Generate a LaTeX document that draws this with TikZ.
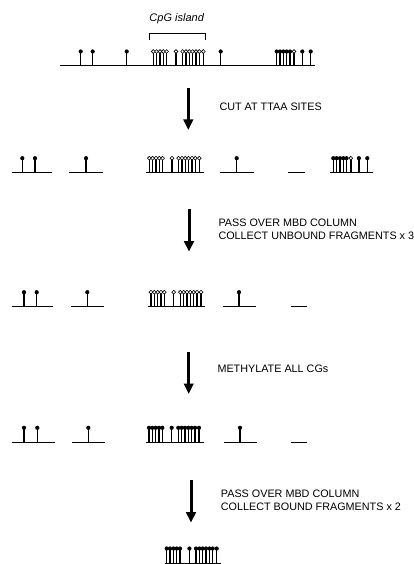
\documentclass[tikz,border=0pt]{standalone}
\usepackage{fontspec}
\setmainfont{Liberation Sans}
\usepackage{tikz}
\usetikzlibrary{arrows.meta}

% methylated (filled) and unmethylated (open) CpG sites
\newcommand{\mcg}[1]{\draw[stem] (#1,0) -- (#1,-13); \fill (#1,-14.5) circle (2.1pt);}
\newcommand{\ucg}[1]{\draw[stem] (#1,0) -- (#1,-12.5); \draw[line width=0.6pt, fill=white] (#1,-14.5) circle (1.9pt);}
% the CpG island cluster, #1 = start, #2 = \mcg or \ucg
\newcommand{\cgisland}[2]{\foreach \d in {0,3.3,6.7,10,13.3,22.7,29.3,32.7,36,39.3,42.7,46,50}{#2{#1+\d}}}

\tikzset{
  dna/.style={line width=1pt},
  stem/.style={line width=1.4pt},
  bigarrow/.style={-{Triangle[length=10.5pt,width=9.5pt]}, line width=3pt},
  steptext/.style={font=\fontsize{10.8}{12.5}\selectfont, anchor=west, align=left, inner sep=0pt}
}

\begin{document}
\begin{tikzpicture}[x=1pt, y=-1pt]
\useasboundingbox (0,0) rectangle (413,564);

% Genomic DNA with the CpG island
\node[font=\fontsize{11}{13}\selectfont\itshape] (island) at (176.7,18.3) {CpG island};
\draw[line width=0.6pt] (149.3,40) -- (149.3,33) -- (205.3,33) -- (205.3,40);
\begin{scope}[shift={(0,66)}]
    \draw[dna] (60,0) -- (315,0);
    \foreach \x in {80.7,92.7,126.7,220.7,276.7,280,283.3,286.7,290,302.3,310.7} {\mcg{\x}}
    \cgisland{153.3}{\ucg}
    \ucg{294}
\end{scope}

% Step 1
\coordinate (a1top) at (188.3,88.3);
\coordinate (a1tip) at (188.3,130);
\draw[bigarrow] (a1top) -- (a1tip);
\node[steptext] (cut) at (219.3,106.7) {CUT AT TTAA SITES};

% TTAA fragments
\begin{scope}[shift={(0,172.7)}]
    \draw[dna] (11.7,0) -- (51.7,0);
    \draw[dna] (69.3,0) -- (102.7,0);
    \draw[dna] (145.7,0) -- (204,0);
    \draw[dna] (220,0) -- (254,0);
    \draw[dna] (288.3,0) -- (305,0);
    \draw[dna] (330,0) -- (372.7,0);
    \foreach \x in {22.3,35,86,236.7,333.3,336.6,340,343.3,346.6,358.9,367.3} {\mcg{\x}}
    \cgisland{149.3}{\ucg}
    \ucg{350.8}
\end{scope}

% Step 2
\coordinate (a2top) at (189,209.3);
\coordinate (a2tip) at (189,251.7);
\draw[bigarrow] (a2top) -- (a2tip);
\node[steptext] (unbound) at (218.3,229.5) {PASS OVER MBD COLUMN\\COLLECT UNBOUND FRAGMENTS x 3};

% Unbound fragments
\begin{scope}[shift={(0,306.7)}]
    \draw[dna] (11.7,0) -- (53.3,0);
    \draw[dna] (71,0) -- (104,0);
    \draw[dna] (148.3,0) -- (205,0);
    \draw[dna] (222.7,0) -- (256,0);
    \draw[dna] (290.7,0) -- (307.3,0);
    \foreach \x in {24,36.7,87.3,239} {\mcg{\x}}
    \cgisland{151}{\ucg}
\end{scope}

% Step 3
\coordinate (a3top) at (188.7,351.7);
\coordinate (a3tip) at (188.7,394);
\draw[bigarrow] (a3top) -- (a3tip);
\node[steptext] (methylate) at (217.3,369) {METHYLATE ALL CGs};

% Fully methylated fragments
\begin{scope}[shift={(0,442.3)}]
    \draw[dna] (11.7,0) -- (55,0);
    \draw[dna] (71.7,0) -- (105,0);
    \draw[dna] (145.7,0) -- (204,0);
    \draw[dna] (224,0) -- (256.7,0);
    \draw[dna] (290.7,0) -- (307.3,0);
    \foreach \x in {24,37.3,88.3,240} {\mcg{\x}}
    \cgisland{149}{\mcg}
\end{scope}

% Step 4
\coordinate (a4top) at (191,480);
\coordinate (a4tip) at (191,522.7);
\draw[bigarrow] (a4top) -- (a4tip);
\node[steptext] (bound) at (220.7,500.3) {PASS OVER MBD COLUMN\\COLLECT BOUND FRAGMENTS x 2};

% Enriched CpG island
\begin{scope}[shift={(0,563)}]
    \draw[dna] (165,0) -- (220.7,0);
    \cgisland{166.7}{\mcg}
\end{scope}

\end{tikzpicture}
\end{document}
